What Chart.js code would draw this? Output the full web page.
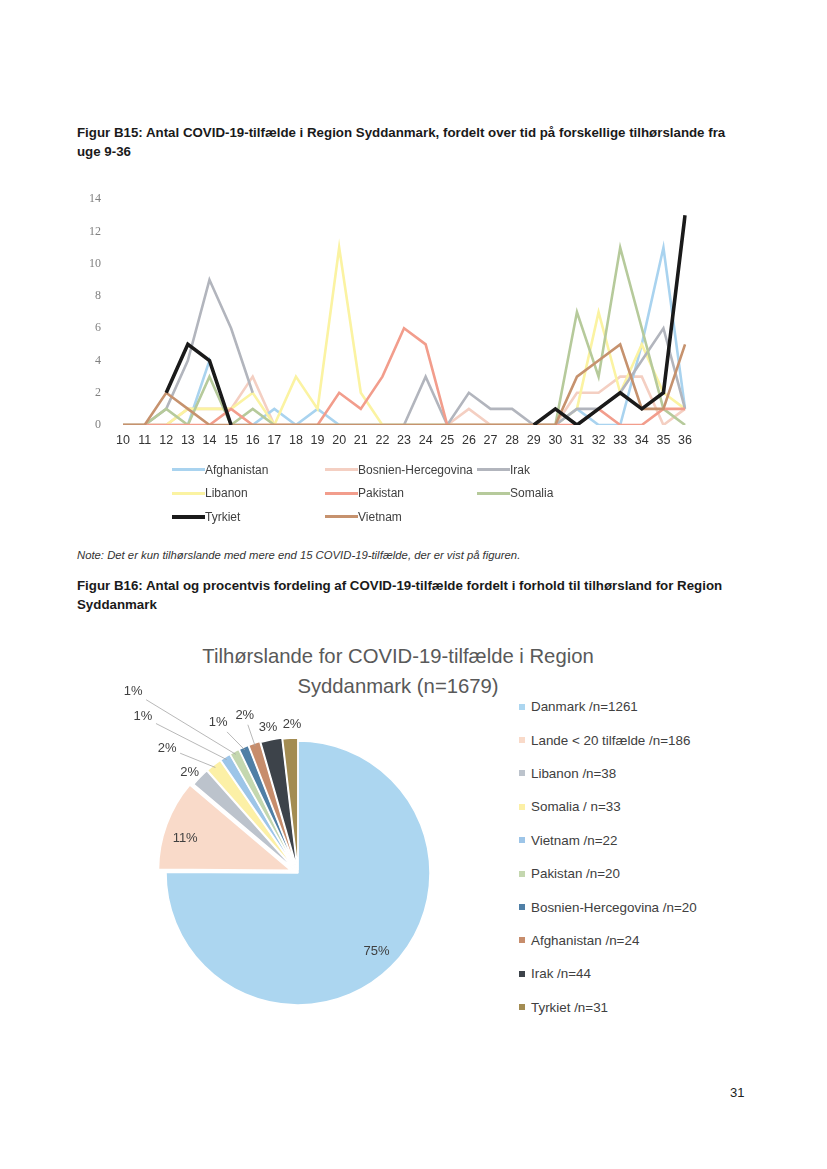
<!DOCTYPE html>
<html>
<head>
  <title>Figur B15 og B16</title>
  <style>
    body { margin: 0; background: #fff; font-family: "Liberation Sans", Arial, sans-serif; color: #222; }
    #page { position: relative; width: 827px; height: 1169px; overflow: hidden; }
    .abs { position: absolute; }
    .fig { left: 77px; font-weight: bold; font-size: 13.3px; line-height: 19px; color: #1a1a1a; white-space: nowrap; }
    .note { left: 77px; top: 549px; font-style: italic; font-size: 11.3px; color: #333; white-space: nowrap; }
    #pieTitle { left: 198px; top: 641px; width: 400px; text-align: center; font-size: 20.3px; line-height: 30px; color: #595959; white-space: nowrap; }
    #lineLegend { left: 172px; top: 458px; display: grid; grid-template-columns: 153px 152px 150px; grid-auto-rows: 23.5px; font-size: 12px; color: #404040; }
    #lineLegend div { display: flex; align-items: center; white-space: nowrap; }
    #lineLegend span.s { display: inline-block; width: 33px; }
    #pieLegend { left: 519px; top: 690px; font-size: 13.4px; color: #404040; }
    #pieLegend div { height: 33.4px; display: flex; align-items: center; white-space: nowrap; }
    #pieLegend span.b { display: inline-block; width: 6px; height: 6px; margin-right: 6px; }
    #pageNo { left: 730px; top: 1085px; font-size: 13px; color: #222; }
  </style>
  <script src="https://cdn.jsdelivr.net/npm/chart.js"></script>
</head>
<body>
<div id="page">
  <div class="abs fig" style="top:123px">Figur B15: Antal COVID-19-tilfælde i Region Syddanmark, fordelt over tid på forskellige tilhørslande fra<br>uge 9-36</div>
  <canvas id="lineChart" class="abs" width="640" height="290" style="left:60px;top:170px"></canvas>
  <div id="lineLegend" class="abs"></div>
  <div class="abs note">Note: Det er kun tilhørslande med mere end 15 COVID-19-tilfælde, der er vist på figuren.</div>
  <div class="abs fig" style="top:576px">Figur B16: Antal og procentvis fordeling af COVID-19-tilfælde fordelt i forhold til tilhørsland for Region<br>Syddanmark</div>
  <div id="pieTitle" class="abs">Tilhørslande for COVID-19-tilfælde i Region<br>Syddanmark (n=1679)</div>
  <canvas id="pieChart" class="abs" width="400" height="400" style="left:98px;top:673px"></canvas>
  <div id="pieLegend" class="abs"></div>
  <div id="pageNo" class="abs">31</div>
</div>
<script>
// uge 10-36
const weeks = ['10','11','12','13','14','15','16','17','18','19','20','21','22','23','24','25','26','27','28','29','30','31','32','33','34','35','36'];
const countries = ['Afghanistan', 'Bosnien-Hercegovina', 'Irak', 'Libanon', 'Pakistan', 'Somalia', 'Tyrkiet', 'Vietnam'];
const afghanistan = [0,0,0,0,4,0,0,1,0,1,0,0,0,0,0,0,0,0,0,0,0,1,0,0,5,11,1];
const bosnien     = [0,0,0,1,1,1,3,0,0,0,0,0,0,0,0,0,1,0,0,0,0,2,2,3,3,0,1];
const irak        = [0,0,1,4,9,6,2,null,null,null,null,null,null,0,3,0,2,1,1,0,0,1,1,2,4,6,1];
const libanon     = [0,0,0,1,1,1,2,0,3,1,11,2,0,0,0,0,0,0,0,0,0,1,7,2,5,2,1];
const pakistan    = [0,0,0,0,0,1,0,0,0,0,2,1,3,6,5,0,0,0,0,0,0,0,1,0,0,1,1];
const somalia     = [0,0,1,0,3,0,1,0,0,0,0,0,0,0,0,0,0,0,0,0,0,7,3,11,6,1,0];
const tyrkiet     = [null,null,2,5,4,0,null,null,null,null,null,null,null,null,null,null,null,null,null,0,1,0,1,2,1,2,13];
const vietnam     = [0,0,2,1,0,0,0,0,0,0,0,0,0,0,0,0,0,0,0,0,0,3,4,5,1,1,5];
const yTicks = [0, 2, 4, 6, 8, 10, 12, 14];

const pieLabels = ['Danmark /n=1261', 'Lande < 20 tilfælde /n=186', 'Libanon /n=38', 'Somalia / n=33', 'Vietnam /n=22', 'Pakistan /n=20', 'Bosnien-Hercegovina /n=20', 'Afghanistan /n=24', 'Irak /n=44', 'Tyrkiet /n=31'];
const pieValues = [1261, 186, 38, 33, 22, 20, 20, 24, 44, 31];
const piePercent = ['75%', '11%', '2%', '2%', '1%', '1%', '1%', '2%', '3%', '2%'];

// styles
const series = [afghanistan, bosnien, irak, libanon, pakistan, somalia, tyrkiet, vietnam];
const lineColors = ['#a9d3ef', '#f4cfc2', '#b2b5bd', '#fbf3a2', '#f29d8c', '#b6ca9b', '#1a1a1a', '#c6926e'];
const lineWidths = [2.6, 2.6, 2.6, 2.6, 2.6, 2.6, 3.6, 2.6];
const drawOrder = [6, 7, 4, 5, 2, 3, 0, 1];
const pieColors = ['#acd6f0', '#f9dac9', '#bcc3cc', '#fcf0a6', '#9dc5e8', '#c4d7af', '#4f7fa6', '#c78d6c', '#3d434a', '#a38c52'];
const pieExplode = [0, 8, 5, 5, 5, 5, 5, 5, 4, 3];
// label placement: [angle clockwise from top (deg), distance from centre (px), leader line]
const labelPlace = [[135, 111, 0], [287, 118, 0], [313, 148, 0], [313.7, 181, 1], [315.2, 220, 1],
                    [317.7, 245, 1], [332, 170, 1], [341.3, 166, 1], [348.4, 149, 0], [357.7, 149, 0]];

// line chart legend
const lineLegend = document.getElementById('lineLegend');
countries.forEach((c, i) => {
  const d = document.createElement('div');
  d.innerHTML = '<span class="s" style="height:' + lineWidths[i] + 'px;background:' + lineColors[i] + '"></span>' + c;
  lineLegend.appendChild(d);
});

new Chart(document.getElementById('lineChart'), {
  type: 'line',
  data: {
    labels: weeks,
    datasets: countries.map((c, i) => ({
      label: c,
      data: series[i],
      borderColor: lineColors[i],
      backgroundColor: lineColors[i],
      borderWidth: lineWidths[i],
      pointRadius: 0,
      tension: 0,
      spanGaps: false,
      order: drawOrder[i]
    }))
  },
  options: {
    responsive: false,
    animation: false,
    layout: { padding: { top: 16, right: 13, left: 0, bottom: 0 } },
    plugins: { legend: { display: false }, tooltip: { enabled: false } },
    scales: {
      x: {
        grid: { display: false, drawTicks: false },
        border: { display: false },
        ticks: { autoSkip: false, maxRotation: 0, padding: 8, color: '#333', font: { family: 'Liberation Sans', size: 12.5 } },
        afterFit: (s) => { s.height = 35; }
      },
      y: {
        min: 0, max: 14,
        grid: { display: false, drawTicks: false },
        border: { display: false },
        afterBuildTicks: (s) => { s.ticks = yTicks.map(v => ({ value: v })); },
        ticks: { padding: 22, color: '#808080', font: { family: 'Liberation Serif', size: 12 } },
        afterFit: (s) => { s.width = 63; }
      }
    }
  }
});

// pie legend
const pieLegend = document.getElementById('pieLegend');
pieLabels.forEach((l, i) => {
  const d = document.createElement('div');
  d.innerHTML = '<span class="b" style="background:' + pieColors[i] + '"></span>' + l.replace('<', '&lt;');
  pieLegend.appendChild(d);
});

const explode = {
  id: 'explode',
  afterDatasetUpdate(chart, args) {
    args.meta.data.forEach((arc, i) => {
      const mid = (arc.startAngle + arc.endAngle) / 2;
      arc.x += Math.cos(mid) * pieExplode[i];
      arc.y += Math.sin(mid) * pieExplode[i];
    });
  }
};

const pieText = {
  id: 'pieText',
  afterDatasetsDraw(chart) {
    const ctx = chart.ctx;
    const ca = chart.chartArea;
    const cx = (ca.left + ca.right) / 2, cy = (ca.top + ca.bottom) / 2;
    const arcs = chart.getDatasetMeta(0).data;
    ctx.save();
    ctx.font = '13px "Liberation Sans"';
    ctx.textAlign = 'center';
    ctx.textBaseline = 'middle';
    arcs.forEach((arc, i) => {
      const [deg, dist, leader] = labelPlace[i];
      const a = (deg - 90) * Math.PI / 180;
      const lx = cx + Math.cos(a) * dist, ly = cy + Math.sin(a) * dist;
      if (leader) {
        const mid = (arc.startAngle + arc.endAngle) / 2;
        const tx = arc.x + Math.cos(mid) * (arc.outerRadius - 3);
        const ty = arc.y + Math.sin(mid) * (arc.outerRadius - 3);
        const dx = tx - lx, dy = ty - ly;
        const t = Math.min(13 / Math.abs(dx || 1e-6), 9 / Math.abs(dy || 1e-6));
        ctx.strokeStyle = '#a6a6a6';
        ctx.lineWidth = 0.8;
        ctx.beginPath();
        ctx.moveTo(lx + dx * t, ly + dy * t);
        ctx.lineTo(tx, ty);
        ctx.stroke();
      }
      ctx.fillStyle = '#404040';
      ctx.fillText(piePercent[i], lx, ly);
    });
    ctx.restore();
  }
};

new Chart(document.getElementById('pieChart'), {
  type: 'pie',
  data: {
    labels: pieLabels,
    datasets: [{
      data: pieValues,
      backgroundColor: pieColors,
      borderColor: '#ffffff',
      borderWidth: 1.5
    }]
  },
  options: {
    responsive: false,
    animation: false,
    radius: 132,
    layout: { padding: 0 },
    plugins: { legend: { display: false }, tooltip: { enabled: false } }
  },
  plugins: [explode, pieText]
});
</script>
</body>
</html>
